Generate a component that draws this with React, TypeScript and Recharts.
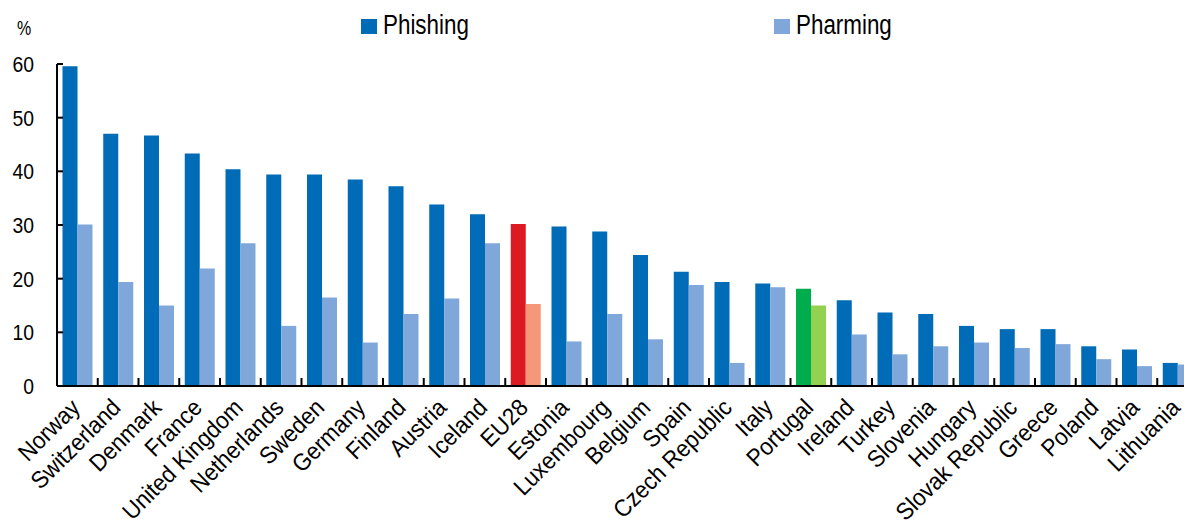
import { BarChart, Bar, XAxis, YAxis, Cell, Legend } from "recharts";

const countries = [
  "Norway", "Switzerland", "Denmark", "France", "United Kingdom", "Netherlands",
  "Sweden", "Germany", "Finland", "Austria", "Iceland", "EU28", "Estonia",
  "Luxembourg", "Belgium", "Spain", "Czech Republic", "Italy", "Portugal",
  "Ireland", "Turkey", "Slovenia", "Hungary", "Slovak Republic", "Greece",
  "Poland", "Latvia", "Lithuania",
];

const phishing = [
  59.6, 47.0, 46.7, 43.3, 40.4, 39.4, 39.4, 38.5, 37.2, 33.8, 32.0, 30.2, 29.7,
  28.8, 24.4, 21.3, 19.4, 19.1, 18.1, 16.0, 13.7, 13.4, 11.2, 10.6, 10.6, 7.4,
  6.8, 4.3,
];

const pharming = [
  30.1, 19.4, 15.0, 21.9, 26.6, 11.2, 16.5, 8.1, 13.4, 16.3, 26.6, 15.3, 8.3,
  13.4, 8.7, 18.8, 4.3, 18.4, 15.0, 9.6, 5.9, 7.4, 8.1, 7.1, 7.8, 5.0, 3.7, 4.0,
];

const yTicks = [0, 10, 20, 30, 40, 50, 60];

const data = countries.map((c, i) => ({ country: c, phishing: phishing[i], pharming: pharming[i] }));

// no narrow font installed, so Liberation Sans gets squeezed horizontally
const FONT = "'Liberation Sans', Arial, sans-serif";
const BLUE = "#006bb6";
const LIGHT = "#7fa7d9";

const darkColor = (c: string) => (c === "EU28" ? "#dc1a21" : c === "Portugal" ? "#00ad4e" : BLUE);
const lightColor = (c: string) => (c === "EU28" ? "#f5987a" : c === "Portugal" ? "#93d150" : LIGHT);

function CountryTick(props: any) {
  const { x, y, payload } = props;
  const half = typeof payload?.offset === "number" && payload.offset > 0 ? payload.offset : 20.4;
  return (
    <g>
      <line x1={x + half} x2={x + half} y1={y - 8} y2={y} stroke="#000" strokeWidth={2} />
      <text
        transform={`translate(${x + 4},${y + 23}) rotate(-45) scale(0.93,1)`}
        textAnchor="end"
        fontFamily={FONT}
        fontSize={24}
        fill="#000"
      >
        {payload.value}
      </text>
    </g>
  );
}

function ValueTick(props: any) {
  const { x, y, payload } = props;
  return (
    <text
      transform={`translate(${x},${y + 8}) scale(0.9,1)`}
      textAnchor="end"
      fontFamily={FONT}
      fontSize={21.5}
      fill="#000"
    >
      {payload.value}
    </text>
  );
}

function LegendBox() {
  const items = [
    { name: "Phishing", color: BLUE, left: 361 },
    { name: "Pharming", color: LIGHT, left: 774 },
  ];
  return (
    <svg width={1184} height={45} style={{ display: "block" }}>
      {items.map((it) => (
        <g key={it.name}>
          <rect x={it.left} y={19} width={16} height={15} fill={it.color} />
          <text
            transform={`translate(${it.left + 22},34) scale(0.8,1)`}
            fontFamily={FONT}
            fontSize={28}
            fill="#000"
          >
            {it.name}
          </text>
        </g>
      ))}
    </svg>
  );
}

export default function App() {
  return (
    <div style={{ position: "absolute", left: 0, top: 0, width: 1184, height: 525, overflow: "hidden", background: "#fff" }}>
      <div
        style={{
          position: "absolute",
          left: 17,
          top: 17,
          fontFamily: FONT,
          fontSize: 20,
          lineHeight: "23px",
          color: "#000",
          transform: "scaleX(0.8)",
          transformOrigin: "left top",
        }}
      >
        %
      </div>
      <BarChart
        width={1200}
        height={525}
        data={data}
        margin={{ top: 64, right: 2, left: 0, bottom: 0 }}
        barCategoryGap="13.5%"
        barGap={0}
      >
        <Legend
          layout="horizontal"
          verticalAlign="middle"
          align="center"
          wrapperStyle={{ top: 0, left: 0, width: 1184 }}
          content={() => <LegendBox />}
        />
        <XAxis
          dataKey="country"
          interval={0}
          height={139}
          tickSize={0}
          tickMargin={0}
          tickLine={false}
          axisLine={{ stroke: "#000", strokeWidth: 2 }}
          tick={<CountryTick />}
        />
        <YAxis
          domain={[0, 60]}
          ticks={yTicks}
          width={57}
          tickSize={-6}
          tickMargin={29}
          axisLine={{ stroke: "#000", strokeWidth: 2 }}
          tickLine={{ stroke: "#000", strokeWidth: 2 }}
          tick={<ValueTick />}
          allowDataOverflow
        />
        <Bar dataKey="phishing" isAnimationActive={false}>
          {data.map((d) => (
            <Cell key={d.country} fill={darkColor(d.country)} />
          ))}
        </Bar>
        <Bar dataKey="pharming" isAnimationActive={false}>
          {data.map((d) => (
            <Cell key={d.country} fill={lightColor(d.country)} />
          ))}
        </Bar>
      </BarChart>
    </div>
  );
}
